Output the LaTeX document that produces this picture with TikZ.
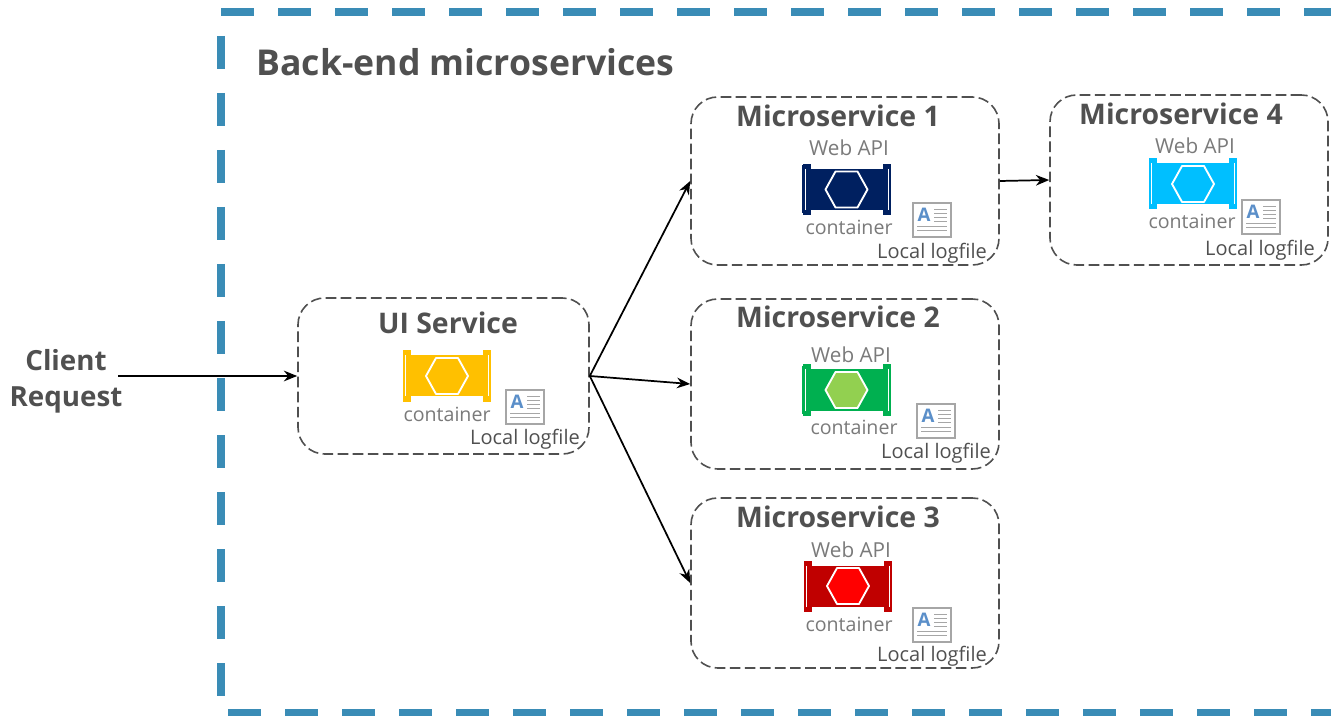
\documentclass[tikz,border=0pt]{standalone}
\usepackage{fontspec}
\setmainfont{Open Sans}
\usetikzlibrary{arrows.meta}
\definecolor{frameblue}{HTML}{3A8CB6}
\definecolor{ink}{HTML}{505050}
\definecolor{soft}{HTML}{7A7A7A}
\definecolor{boxline}{HTML}{505050}
\definecolor{logline}{HTML}{A6A6A6}
\definecolor{logblue}{HTML}{5B8FC9}
\definecolor{navy}{HTML}{002060}
\definecolor{skyc}{HTML}{00BFFF}
\definecolor{greenc}{HTML}{00B050}
\definecolor{limec}{HTML}{92D050}
\definecolor{redc}{HTML}{C00000}
\definecolor{brightred}{HTML}{FF0000}
\definecolor{amber}{HTML}{FFC000}
\tikzset{
  x=0.75pt,y=-0.75pt,
  frameline/.style={draw=frameblue,line width=6pt,dash pattern=on 24.75pt off 18pt},
  svcbox/.style={draw=boxline,line width=1.2pt,dash pattern=on 8pt off 3.3pt,rounded corners=20pt,fill=white},
  link/.style={draw=black,line width=1.3pt,-{Stealth[length=10pt,width=8pt]}},
  titletext/.style={font=\bfseries\fontsize{26.7}{30}\selectfont,text=ink,inner sep=0pt},
  svctitle/.style={font=\bfseries\fontsize{21.3}{24}\selectfont,text=ink,inner sep=0pt},
  clienttext/.style={font=\bfseries\fontsize{20.8}{27}\selectfont,text=ink,inner sep=0pt,align=center},
  apitext/.style={font=\fontsize{15.5}{18}\selectfont,text=soft,inner sep=0pt},
  boxtext/.style={font=\fontsize{14.7}{18}\selectfont,text=soft,inner sep=0pt},
  logtext/.style={font=\fontsize{15}{18}\selectfont,text=ink,inner sep=0pt},
}
% container icon: centre x, centre y, body colour, hexagon colour
\newcommand{\containericon}[4]{%
  \begin{scope}[shift={(#1,#2)}]
    \fill[#3] (-43,-20.5) rectangle (43,20.5);
    \draw[white,line width=0.5pt] (-41.5,-20.5) -- (-41.5,20.5) (41.5,-20.5) -- (41.5,20.5);
    \draw[#3,line width=1.2pt] (-43.5,-24) -- (-43.5,24) (43.5,-24) -- (43.5,24);
    \fill[#3] (-44,-25.5) rectangle (-36,-20.5);
    \fill[#3] (36,-25.5) rectangle (44,-20.5);
    \fill[#3] (-44,20.5) rectangle (-36,25.5);
    \fill[#3] (36,20.5) rectangle (44,25.5);
    \draw[white,fill=#4,line width=1.4pt,line join=round] (-21,0) -- (-11,-18) -- (11,-18) -- (21,0) -- (11,18) -- (-11,18) -- cycle;
  \end{scope}}
% log file icon
\newcommand{\logicon}[2]{%
  \begin{scope}[shift={(#1,#2)}]
    \draw[logline,fill=white,line width=1.4pt] (-19,-17) rectangle (19,17);
    \node[inner sep=0pt,text=logblue] (lg#1) at (-8,-5) {\bfseries\fontsize{14}{15}\selectfont A};
    \draw[logline,line width=0.7pt]
      (2,-11) -- (15,-11) (2,-7) -- (15,-7) (2,-3) -- (15,-3) (2,1) -- (15,1)
      (-15,6) -- (15,6) (-15,10) -- (15,10);
  \end{scope}}
\begin{document}
\begin{tikzpicture}
\useasboundingbox (0,0) rectangle (1331,716);
% outer dashed frame
\coordinate (ftl) at (221,12.5);
\coordinate (ftr) at (1331,12.5);
\coordinate (fl1) at (221,36);
\coordinate (fl2) at (221,696);
\coordinate (fbl) at (228,713);
\coordinate (fbr) at (1331,713);
\draw[frameline] (ftl) -- (ftr);
\draw[frameline] (fl1) -- (fl2);
\draw[frameline] (fbl) -- (fbr);
\node[titletext] (title) at (465.5,62) {Back-end microservices};
% service boxes
\node[svcbox,minimum width=291*0.75pt,minimum height=156*0.75pt,inner sep=0pt] (ui) at (443.5,376) {};
\node[svcbox,minimum width=308*0.75pt,minimum height=168*0.75pt,inner sep=0pt] (ms1) at (845,181) {};
\node[svcbox,minimum width=308*0.75pt,minimum height=170*0.75pt,inner sep=0pt] (ms2) at (845,384) {};
\node[svcbox,minimum width=308*0.75pt,minimum height=170*0.75pt,inner sep=0pt] (ms3) at (845,583) {};
\node[svcbox,minimum width=278*0.75pt,minimum height=170*0.75pt,inner sep=0pt] (ms4) at (1189,180) {};
% titles
\node[svctitle] (t0) at (448,323) {UI Service};
\node[svctitle] (t1) at (838,116) {Microservice 1};
\node[svctitle] (t2) at (838,317) {Microservice 2};
\node[svctitle] (t3) at (838,517) {Microservice 3};
\node[svctitle] (t4) at (1181,114) {Microservice 4};
\node[clienttext] (client) at (66,381) {Client\\Request};
\coordinate (clientout) at (118,376);
% Web API
\node[apitext] (w1) at (849,148) {Web API};
\node[apitext] (w2) at (851,355) {Web API};
\node[apitext] (w3) at (851,550) {Web API};
\node[apitext] (w4) at (1195,146) {Web API};
% containers
\containericon{447}{376}{amber}{amber}
\containericon{846.5}{189.5}{navy}{navy}
\containericon{846.5}{390}{greenc}{limec}
\containericon{848}{586}{redc}{brightred}
\containericon{1193}{184}{skyc}{skyc}
\node[boxtext] (c0) at (447,414.5) {container};
\node[boxtext] (c1) at (849,227.5) {container};
\node[boxtext] (c2) at (854,427.5) {container};
\node[boxtext] (c3) at (849,624.5) {container};
\node[boxtext] (c4) at (1192,221.5) {container};
% logs
\logicon{525}{407}
\logicon{932}{220}
\logicon{936}{421}
\logicon{932}{625}
\logicon{1261}{217}
\node[logtext] (l0) at (525,439) {Local logfile};
\node[logtext] (l1) at (932,253) {Local logfile};
\node[logtext] (l2) at (936,453) {Local logfile};
\node[logtext] (l3) at (932,656.5) {Local logfile};
\node[logtext] (l4) at (1260,250) {Local logfile};
% connectors
\draw[link] (clientout) -- (ui.west);
\draw[link] (ui.east) -- (ms1.west);
\draw[link] (ui.east) -- (ms2.west);
\draw[link] (ui.east) -- (ms3.west);
\draw[link] (ms1.east) -- (ms4.west);
\end{tikzpicture}
\end{document}
